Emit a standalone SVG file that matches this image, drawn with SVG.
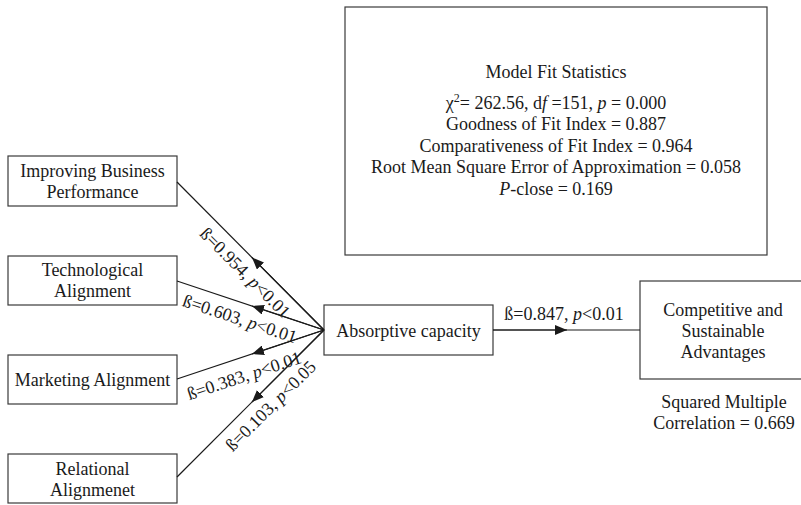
<svg xmlns="http://www.w3.org/2000/svg" width="801" height="505" viewBox="0 0 801 505">
<defs>
<style>
text{font-family:"Liberation Serif","Times New Roman",serif;font-size:18px;fill:#1a1a1a}
.box{fill:#fff;stroke:#3a3a3a;stroke-width:1.2}
.ln{stroke:#1a1a1a;stroke-width:1.2;fill:none}
.c{text-anchor:middle}
</style>
<marker id="ah" viewBox="0 0 12 10" refX="12" refY="5" markerWidth="12" markerHeight="10" markerUnits="userSpaceOnUse" orient="auto">
<path d="M0,0 L12,5 L0,10 z" fill="#1a1a1a"/>
</marker>
</defs>
<rect width="801" height="505" fill="#fff"/>

<g id="stats">
<rect class="box" x="345" y="7" width="422" height="248"/>
<text class="c" x="556" y="78">Model Fit Statistics</text>
<text class="c" x="556" y="109">χ<tspan dy="-7" font-size="12">2</tspan><tspan dy="7">= 262.56, d</tspan><tspan font-style="italic">f</tspan> =151, <tspan font-style="italic">p</tspan> = 0.000</text>
<text class="c" x="556" y="130">Goodness of Fit Index = 0.887</text>
<text class="c" x="556" y="151.5">Comparativeness of Fit Index = 0.964</text>
<text class="c" x="556" y="173">Root Mean Square Error of Approximation = 0.058</text>
<text class="c" x="556" y="194.5"><tspan font-style="italic">P</tspan>-close = 0.169</text>
</g>

<g id="ibp">
<rect class="box" x="8" y="156" width="169" height="50"/>
<text class="c" x="92.5" y="177">Improving Business</text>
<text class="c" x="92.5" y="198">Performance</text>
</g>
<g id="ta">
<rect class="box" x="8" y="256" width="169" height="49"/>
<text class="c" x="92.5" y="276">Technological</text>
<text class="c" x="92.5" y="297">Alignment</text>
</g>
<g id="ma">
<rect class="box" x="8" y="355" width="169" height="49"/>
<text class="c" x="92.5" y="386">Marketing Alignment</text>
</g>
<g id="ra">
<rect class="box" x="8" y="454" width="169" height="49"/>
<text class="c" x="92.5" y="475">Relational</text>
<text class="c" x="92.5" y="496">Alignmenet</text>
</g>
<g id="ac">
<rect class="box" x="324" y="305" width="169" height="50"/>
<text class="c" x="408.5" y="337">Absorptive capacity</text>
</g>
<g id="csa">
<rect class="box" x="640" y="281" width="162" height="98"/>
<text class="c" x="723" y="316">Competitive and</text>
<text class="c" x="723" y="337">Sustainable</text>
<text class="c" x="723" y="358">Advantages</text>
</g>
<g id="smc">
<text class="c" x="724" y="408">Squared Multiple</text>
<text class="c" x="724" y="429">Correlation = 0.669</text>
</g>

<g id="connectors">
<line class="ln" x1="324" y1="330" x2="177" y2="182"/>
<line class="ln" x1="324" y1="330" x2="252" y2="257.5" marker-end="url(#ah)"/>
<line class="ln" x1="324" y1="330" x2="177" y2="281"/>
<line class="ln" x1="324" y1="330" x2="252" y2="306" marker-end="url(#ah)"/>
<line class="ln" x1="324" y1="330" x2="177" y2="379"/>
<line class="ln" x1="324" y1="330" x2="252" y2="354" marker-end="url(#ah)"/>
<line class="ln" x1="324" y1="330" x2="177" y2="477"/>
<line class="ln" x1="324" y1="330" x2="252" y2="402" marker-end="url(#ah)"/>
<line class="ln" x1="493" y1="330" x2="640" y2="330"/>
<line class="ln" x1="493" y1="330" x2="567" y2="330" marker-end="url(#ah)"/>
<text class="c" transform="translate(241,277) rotate(45)">ß=0.954, <tspan font-style="italic">p</tspan>&lt;0.01</text>
<text class="c" transform="translate(238,324.5) rotate(18.4)">ß=0.603, <tspan font-style="italic">p</tspan>&lt;0.01</text>
<text class="c" transform="translate(246,381.5) rotate(-18.4)">ß=0.383, <tspan font-style="italic">p</tspan>&lt;0.01</text>
<text class="c" transform="translate(275,410) rotate(-45)">ß=0.103, <tspan font-style="italic">p</tspan>&lt;0.05</text>
<text class="c" x="564" y="320">ß=0.847, <tspan font-style="italic">p</tspan>&lt;0.01</text>
</g>
</svg>
